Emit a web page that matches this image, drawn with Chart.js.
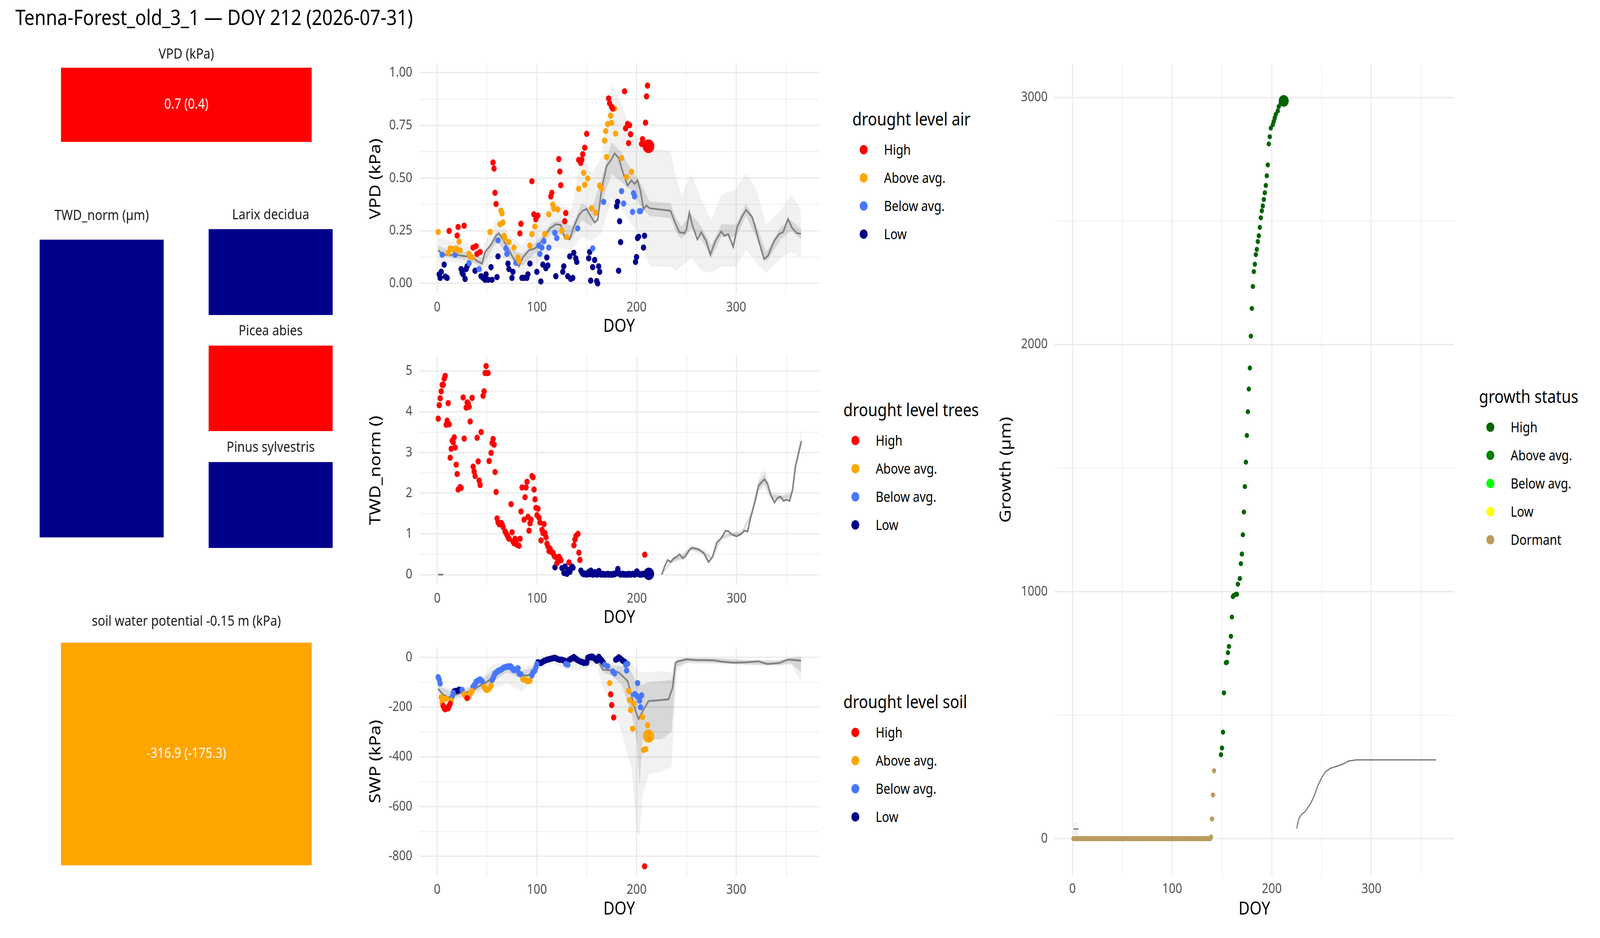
<!DOCTYPE html>
<html>
<head>
<meta charset="utf-8">
<script src="https://cdn.jsdelivr.net/npm/chart.js@4.4.1/dist/chart.umd.min.js"></script>
<style>
  html, body { margin: 0; padding: 0; overflow: hidden; background: #fff; }
  #page { position: absolute; left: 0; top: 0; width: 4800px; height: 2400px; transform-origin: 0 0;
          font-family: "Noto Sans", sans-serif; background: #fff; }
  .box { position: absolute; }
  .txt { position: absolute; line-height: 1; white-space: nowrap; transform: translateY(-50%); color: #000; }
  .dot { position: absolute; width: 24px; height: 24px; border-radius: 50%; transform: translate(-50%, -50%); }
</style>
</head>
<body>
<div id="page"></div>
<script>
// ---- categories / legends
const levelNames = ["High", "Above avg.", "Below avg.", "Low"];
const levelColors = ["#FF0000", "#FFA500", "#4876FF", "#00008B"];
const growthNames = ["High", "Above avg.", "Below avg.", "Low", "Dormant"];
const growthColors = ["#006400", "#008000", "#00FF00", "#FFFF00", "#BA9B5E"];

// ---- status tiles (today)
const tileTitles = ["VPD (kPa)", "TWD_norm (µm)", "Larix decidua", "Picea abies", "Pinus sylvestris",
                    "soil water potential -0.15 m (kPa)"];
const tileLevels = ["High", "Low", "Low", "High", "Low", "Above avg."];
const tileTexts = ["0.7 (0.4)", "", "", "", "", "-316.9 (-175.3)"];

// ---- VPD (kPa), points [DOY, value] per drought level
const vpdHigh = [[12,0.249],[20,0.227],[21,0.268],[27,0.274],[36,0.170],[39,0.177],[40,0.140],[43,0.149],
  [56,0.574],[57,0.545],[58,0.430],[59,0.377],[83,0.237],[84,0.283],[95,0.485],[97,0.328],[99,0.304],
  [101,0.322],[114,0.413],[115,0.430],[122,0.590],[123,0.531],[124,0.466],[128,0.295],[129,0.334],
  [142,0.586],[144,0.572],[145,0.587],[146,0.613],[148,0.644],[150,0.710],[172,0.878],[173,0.855],
  [175,0.838],[176,0.830],[188,0.912],[189,0.736],[191,0.757],[192,0.666],[193,0.751],[194,0.708],
  [205,0.662],[206,0.685],[209,0.763],[210,0.888],[211,0.939]];
const vpdAbove = [[1,0.244],[11,0.145],[13,0.166],[16,0.162],[19,0.166],[20,0.157],[22,0.198],[23,0.157],
  [32,0.140],[33,0.128],[35,0.123],[53,0.244],[63,0.281],[64,0.345],[65,0.332],[66,0.289],[67,0.226],
  [68,0.213],[72,0.196],[77,0.170],[81,0.123],[82,0.106],[93,0.179],[95,0.234],[98,0.270],[108,0.234],
  [112,0.328],[116,0.374],[117,0.355],[121,0.351],[125,0.251],[130,0.220],[142,0.449],[147,0.525],
  [148,0.468],[151,0.498],[155,0.357],[159,0.336],[163,0.464],[165,0.451],[168,0.678],[169,0.723],
  [170,0.600],[171,0.756],[174,0.796],[175,0.762],[178,0.830],[179,0.711],[185,0.595],[190,0.505],[195,0.530]];
const vpdBelow = [[5,0.136],[18,0.136],[32,0.096],[42,0.068],[61,0.204],[69,0.166],[70,0.140],[79,0.098],
  [102,0.179],[103,0.140],[105,0.170],[107,0.200],[112,0.170],[118,0.240],[120,0.215],[141,0.261],
  [156,0.166],[167,0.387],[185,0.438],[187,0.379],[196,0.339],[197,0.428],[198,0.413],[203,0.343],[204,0.343]];
const vpdLow = [[2,0.043],[3,0.026],[4,0.055],[7,0.089],[8,0.032],[10,0.026],[24,0.068],[25,0.051],
  [26,0.043],[28,0.021],[29,0.068],[30,0.081],[38,0.060],[44,0.034],[46,0.026],[48,0.017],[49,0.043],
  [51,0.017],[54,0.077],[55,0.017],[60,0.030],[61,0.128],[71,0.094],[72,0.068],[75,0.026],[76,0.055],
  [85,0.026],[87,0.026],[90,0.026],[91,0.043],[93,0.094],[100,0.055],[104,0.009],[106,0.089],[109,0.072],
  [110,0.123],[111,0.085],[119,0.034],[126,0.055],[127,0.081],[131,0.034],[133,0.128],[134,0.021],
  [136,0.026],[137,0.145],[139,0.119],[140,0.102],[152,0.119],[153,0.149],[154,0.013],[156,0.077],
  [158,0.111],[160,0.011],[161,0.000],[162,0.081],[163,0.055],[180,0.366],[181,0.387],[182,0.060],
  [183,0.295],[184,0.196],[199,0.102],[200,0.125],[201,0.215],[202,0.221],[207,0.170],[208,0.226]];
const vpdToday = [212, 0.651];
// long-term mean
const vpdClimDoy = [1,6,12,18,24,30,36,40,45,48,54,59,62,66,72,78,82,86,92,98,103,107,113,119,124,128,133,
  137,142,146,150,154,158,161,165,170,174,178,182,186,191,195,198,201,204,207,210,213,234,239,243,248,250,
  253,256,261,265,270,274,279,285,288,292,297,301,306,310,316,319,323,328,332,338,343,347,352,356,361,365];
const vpdClim = [0.158,0.136,0.134,0.136,0.132,0.128,0.123,0.106,0.094,0.149,0.183,0.226,0.238,0.208,0.157,
  0.106,0.081,0.123,0.157,0.166,0.191,0.217,0.260,0.281,0.277,0.213,0.209,0.268,0.323,0.345,0.353,0.319,
  0.289,0.302,0.447,0.557,0.583,0.617,0.596,0.532,0.464,0.489,0.472,0.489,0.438,0.353,0.370,0.357,0.345,
  0.285,0.243,0.238,0.255,0.336,0.277,0.209,0.243,0.200,0.136,0.200,0.247,0.226,0.234,0.174,0.268,0.319,
  0.349,0.315,0.268,0.196,0.115,0.132,0.200,0.234,0.243,0.306,0.264,0.238,0.236];
const vpdBandDoy = [1,15,30,45,60,75,85,100,115,125,135,145,155,165,175,185,195,205,213,234,240,245,255,265,
  275,285,300,310,320,330,345,355,365];
const vpdOuterLo = [0.10,0.10,0.09,0.05,0.14,0.08,0.03,0.09,0.17,0.17,0.16,0.22,0.20,0.24,0.40,0.35,0.28,
  0.22,0.08,0.08,0.06,0.08,0.12,0.06,0.05,0.08,0.08,0.16,0.10,0.05,0.12,0.15,0.12];
const vpdOuterHi = [0.22,0.20,0.19,0.17,0.31,0.22,0.18,0.28,0.38,0.37,0.35,0.62,0.52,0.60,0.95,0.85,0.72,
  0.68,0.64,0.63,0.50,0.42,0.52,0.40,0.30,0.42,0.45,0.52,0.45,0.28,0.35,0.42,0.35];
const vpdInnerLo = [0.14,0.12,0.11,0.08,0.20,0.11,0.08,0.15,0.24,0.23,0.21,0.30,0.27,0.38,0.52,0.48,0.44,
  0.36,0.32,0.31,0.24,0.21,0.26,0.21,0.12,0.22,0.22,0.32,0.22,0.10,0.21,0.25,0.21];
const vpdInnerHi = [0.18,0.15,0.15,0.12,0.25,0.16,0.14,0.20,0.29,0.30,0.27,0.38,0.35,0.50,0.67,0.62,0.54,
  0.47,0.39,0.38,0.31,0.27,0.33,0.27,0.18,0.28,0.28,0.38,0.28,0.15,0.27,0.30,0.26];

// ---- TWD_norm, points per drought level
const twdHigh = [[1,3.83],[2,4.16],[3,4.33],[4,4.50],[5,4.66],[6,4.66],[7,4.81],[8,4.88],[9,3.68],[10,3.78],
  [11,4.21],[12,3.69],[13,2.87],[14,3.09],[15,3.29],[16,3.25],[17,3.37],[18,3.12],[19,2.70],[20,2.47],
  [21,2.09],[23,2.15],[24,2.13],[26,4.35],[27,3.34],[29,4.10],[30,4.23],[31,4.21],[32,4.12],[33,3.76],
  [35,4.34],[36,2.65],[37,2.53],[38,2.42],[40,3.36],[41,2.78],[42,2.31],[43,2.20],[44,3.50],[46,4.39],
  [47,4.50],[48,4.95],[49,5.12],[50,4.95],[51,4.95],[52,2.79],[54,2.99],[55,3.23],[56,3.33],[57,3.19],
  [58,2.52],[59,2.03],[60,1.38],[61,1.28],[62,1.24],[63,1.26],[64,1.27],[65,1.24],[66,1.17],[68,1.06],
  [69,1.02],[70,0.97],[71,0.92],[72,0.88],[74,1.73],[75,1.04],[76,0.81],[77,0.77],[78,0.88],[79,0.84],
  [80,0.73],[82,0.71],[83,0.88],[84,1.55],[85,2.14],[87,1.35],[88,1.90],[89,2.14],[90,2.28],[91,1.42],
  [92,1.08],[93,1.26],[94,1.35],[95,2.42],[96,2.39],[97,2.09],[98,1.85],[99,1.64],[100,1.46],[101,1.62],
  [102,1.40],[103,1.28],[104,0.84],[105,1.10],[106,1.02],[107,1.24],[108,1.02],[109,0.92],[110,0.76],
  [111,0.69],[112,0.58],[113,0.64],[114,0.56],[116,0.54],[117,0.47],[118,0.44],[120,0.28],[121,0.36],
  [122,0.44],[123,0.40],[124,0.35],[132,0.30],[137,0.72],[138,0.86],[139,0.95],[141,1.00],[142,0.54],
  [143,0.36],[208,0.49]];
const twdLow = [[118,0.18],[125,0.16],[127,0.04],[128,0.20],[130,0.02],[131,0.12],[133,0.07],[135,0.20],
  [136,0.17],[144,0.10],[145,0.05],[146,0.02],[147,0.01],[148,0.03],[149,0.01],[150,0.00],[151,0.02],
  [152,0.07],[153,0.01],[154,0.10],[155,0.02],[156,0.00],[157,0.01],[158,0.06],[159,0.01],[160,0.00],
  [161,0.02],[162,0.09],[163,0.01],[164,0.00],[165,0.01],[166,0.02],[167,0.00],[168,0.01],[169,0.00],
  [170,0.01],[171,0.02],[172,0.00],[173,0.01],[174,0.00],[175,0.01],[176,0.00],[177,0.02],[178,0.01],
  [179,0.03],[180,0.06],[181,0.14],[182,0.05],[183,0.01],[184,0.00],[185,0.01],[186,0.02],[187,0.00],
  [188,0.01],[189,0.00],[190,0.01],[191,0.00],[192,0.02],[193,0.01],[194,0.00],[195,0.01],[196,0.02],
  [197,0.01],[198,0.00],[199,0.03],[200,0.08],[201,0.05],[202,0.01],[203,0.00],[204,0.01],[205,0.00],
  [206,0.02],[207,0.01],[209,0.04],[210,0.02],[211,0.01]];
const twdToday = [212, 0.02];
const twdClimDoy = [1,6,7,225,228,231,234,237,240,243,246,249,253,256,262,267,272,276,280,285,289,292,295,
  300,304,308,311,314,319,322,325,328,331,334,338,341,344,347,350,353,356,359,365];
const twdClim = [0,0,null,0,0.21,0.36,0.31,0.40,0.44,0.50,0.40,0.46,0.62,0.66,0.62,0.53,0.31,0.44,0.78,0.91,
  1.08,1.06,0.99,0.94,0.99,1.08,1.06,1.39,1.85,2.18,2.27,2.34,2.23,1.97,1.77,1.88,1.92,1.81,1.84,1.81,
  2.07,2.66,3.28];
const twdBandDoy = [225,235,245,255,265,275,285,295,305,315,322,328,335,345,355,360,365];
const twdOuterLo = [0,0.26,0.35,0.57,0.49,0.33,0.84,0.92,0.94,1.42,2.02,2.12,1.82,1.76,1.86,2.70,3.20];
const twdOuterHi = [0.02,0.42,0.52,0.74,0.65,0.47,0.98,1.06,1.08,1.58,2.38,2.62,2.04,1.98,2.04,2.92,3.60];
const twdInnerLo = [0,0.30,0.39,0.61,0.53,0.37,0.88,0.96,0.97,1.46,2.08,2.22,1.86,1.83,1.91,2.75,3.24];
const twdInnerHi = [0.01,0.38,0.47,0.69,0.61,0.43,0.94,1.02,1.05,1.54,2.28,2.48,1.98,1.93,1.99,2.85,3.32];

// ---- SWP (kPa), points per drought level
const swpHigh = [[6,-195],[7,-205],[8,-209],[10,-204],[11,-205],[12,-195],[13,-187],[30,-164],[174,-149],
  [175,-192],[177,-242],[208,-840]];
const swpAbove = [[4,-161],[5,-182],[9,-166],[14,-174],[27,-148],[28,-155],[29,-160],[32,-158],[33,-147],
  [34,-140],[35,-135],[47,-119],[48,-125],[49,-131],[50,-131],[51,-128],[52,-127],[53,-120],[54,-114],
  [86,-88],[87,-90],[88,-91],[89,-93],[90,-95],[91,-96],[92,-95],[93,-94],[173,-104],[192,-135],[193,-172],
  [194,-212],[196,-287],[197,-186],[206,-240],[207,-373],[209,-369],[211,-273]];
const swpBelow = [[1,-80],[2,-90],[3,-105],[15,-158],[16,-143],[25,-131],[36,-119],[37,-113],[38,-108],
  [39,-98],[40,-96],[41,-94],[42,-90],[43,-89],[44,-92],[45,-96],[55,-92],[56,-84],[57,-75],[58,-65],
  [59,-62],[60,-59],[61,-55],[62,-53],[63,-52],[64,-50],[65,-47],[66,-44],[67,-41],[68,-40],[69,-39],
  [70,-38],[71,-37],[72,-36],[73,-36],[74,-37],[75,-44],[76,-48],[77,-52],[78,-50],[79,-49],[80,-47],
  [81,-44],[82,-65],[83,-67],[84,-69],[95,-73],[96,-61],[97,-57],[98,-53],[99,-41],[100,-28],[129,-27],
  [131,-30],[168,-30],[171,-36],[176,-57],[178,-65],[189,-30],[190,-53],[191,-26],[198,-148],[200,-155],
  [201,-104],[202,-162],[203,-174],[204,-201],[205,-153]];
const swpLow = [[17,-137],[18,-135],[20,-135],[21,-133],[22,-130],[101,-20],[102,-22],[103,-23],[104,-23],
  [105,-20],[106,-18],[107,-15],[108,-13],[109,-12],[110,-10],[111,-9],[112,-8],[113,-7],[114,-6],[115,-5],
  [116,-4],[117,-3],[118,-2],[119,-4],[120,-6],[121,-8],[122,-9],[123,-10],[124,-10],[125,-10],[126,-12],
  [127,-13],[128,-14],[132,-12],[133,-9],[134,-6],[135,-5],[136,-2],[137,1],[138,-3],[139,-5],[140,-9],
  [141,-12],[142,-14],[143,-16],[144,-18],[145,-19],[146,-20],[147,-23],[148,-22],[149,-21],[150,-22],
  [151,-2],[152,0],[153,1],[154,2],[155,3],[156,2],[157,-2],[158,-5],[159,-10],[160,-14],[161,-6],[162,2],
  [163,-3],[164,-8],[165,-12],[166,-18],[167,-24],[179,-10],[180,-8],[181,-6],[182,0],[183,-3],[184,-6],
  [185,-10],[186,-14],[187,-16],[188,-18]];
const swpToday = [212, -316.9];
const swpClimDoy = [1,6,12,18,24,33,42,51,60,69,78,85,91,97,101,107,116,131,146,158,162,166,170,176,182,186,
  191,195,199,202,206,212,221,232,236,239,242,250,259,277,286,298,310,322,331,343,352,358,365];
const swpClim = [-127,-151,-162,-151,-143,-139,-116,-96,-61,-45,-49,-73,-73,-57,-22,-10,-6,-12,-14,-10,-18,
  -49,-51,-53,-61,-76,-96,-155,-217,-248,-217,-176,-173,-169,-123,-22,-16,-8,-11,-12,-18,-22,-20,-16,-27,
  -23,-9,-11,-14];
const swpBandDoy = [1,15,30,45,55,70,85,95,101,115,130,145,160,166,175,185,195,200,203,206,212,225,235,240,
  250,280,310,340,355,365];
const swpInnerLo = [-140,-165,-155,-125,-100,-60,-88,-75,-35,-15,-22,-22,-20,-60,-75,-110,-230,-330,-520,-330,
  -330,-330,-300,-40,-20,-22,-28,-32,-25,-60];
const swpInnerHi = [-115,-140,-125,-90,-55,-30,-55,-40,-10,0,-5,-5,-3,-35,-35,-35,-60,-100,-110,-110,-100,-95,
  -90,-10,-3,-5,-12,-15,-3,0];
const swpOuterLo = [-150,-175,-165,-140,-130,-105,-140,-100,-45,-25,-50,-50,-30,-120,-200,-300,-450,-700,-720,
  -560,-470,-460,-440,-60,-25,-28,-32,-36,-30,-100];
const swpOuterHi = [-105,-130,-115,-80,-30,-20,-40,-30,-5,0,0,0,0,-20,-15,-20,-25,-40,-60,-60,-60,-55,-60,-5,
  0,-2,-8,-10,0,5];

// ---- Growth (µm), points per growth status
const growthDormantDoy = [1,2,3,4,5,6,7,8,9,10,11,12,13,14,15,16,17,18,19,20,21,22,23,24,25,26,27,28,29,30,
  31,32,33,34,35,36,37,38,39,40,41,42,43,44,45,46,47,48,49,50,51,52,53,54,55,56,57,58,59,60,61,62,63,64,65,
  66,67,68,69,70,71,72,73,74,75,76,77,78,79,80,81,82,83,84,85,86,87,88,89,90,91,92,93,94,95,96,97,98,99,100,
  101,102,103,104,105,106,107,108,109,110,111,112,113,114,115,116,117,118,119,120,121,122,123,124,125,126,
  127,128,129,130,131,132,133,134,135,136,137,138,139,140,141,142,143,144,145,146,147,148];
const growthDormant = [0,0,0,0,0,0,0,0,0,0,0,0,0,0,0,0,0,0,0,0,0,0,0,0,0,0,0,0,0,0,0,0,0,0,0,0,0,0,0,0,0,0,
  0,0,0,0,0,0,0,0,0,0,0,0,0,0,0,0,0,0,0,0,0,0,0,0,0,0,0,0,0,0,0,0,0,0,0,0,0,0,0,0,0,0,0,0,0,0,0,0,0,0,0,0,
  0,0,0,0,0,0,0,0,0,0,0,0,0,0,0,0,0,0,0,0,0,0,0,0,0,0,0,0,0,0,0,0,0,0,0,0,0,0,0,0,0,0,0,0,7,80,177,275];
const growthHigh = [[149,340],[150,367],[151,431],[152,590],[154,712],[155,714],[156,753],[157,778],[159,819],
  [160,897],[161,980],[162,985],[164,989],[165,989],[166,1030],[168,1053],[169,1113],[170,1152],[171,1230],
  [172,1322],[173,1425],[174,1524],[175,1632],[176,1728],[177,1820],[178,1905],[179,2034],[180,2146],
  [181,2235],[182,2295],[183,2325],[184,2364],[185,2385],[186,2417],[187,2440],[188,2474],[189,2513],
  [190,2541],[191,2561],[192,2587],[193,2614],[194,2644],[195,2683],[196,2727],[197,2812],[198,2841],
  [199,2876],[201,2890],[202,2903],[203,2917],[204,2931],[206,2945],[207,2963],[209,2977],[210,2984]];
const growthToday = [212, 2986];
const growthClimDoy = [1,6,7,225,227,230,233,237,239,243,246,250,254,259,266,272,277,285,294,365];
const growthClim = [39,39,null,41,80,99,108,131,142,177,213,246,271,285,294,303,314,319,319,319];
const growthBandDoy = [1,6];
const growthBandLo = [14,14];
const growthBandHi = [64,64];

// ---------------------------------------------------------------- drawing
// the page is laid out at 4800 x 2400 and fitted to whatever viewport the browser really has
const page = document.getElementById("page");
document.body.style.width = window.innerWidth + "px";
document.body.style.height = window.innerHeight + "px";
page.style.transform = `scale(${window.innerWidth / 4800}, ${window.innerHeight / 2400})`;

const FONT = '"Noto Sans", sans-serif';
Chart.defaults.font.family = FONT;
Chart.defaults.color = "#4D4D4D";

const colorOf = name => levelColors[levelNames.indexOf(name)];
const xy = pairs => pairs.map(p => ({x: p[0], y: p[1]}));
const zip = (xs, ys) => xs.map((x, i) => ({x: x, y: ys[i]}));
const isMult = (v, s) => Math.abs(v / s - Math.round(v / s)) < 1e-6;

function addDiv(cls, style, txt) {
  const d = document.createElement("div");
  d.className = cls;
  d.style.cssText = style;
  if (txt) d.textContent = txt;
  page.appendChild(d);
  return d;
}
function place(l, t, w, h) {
  const d = addDiv("box", `left:${l}px; top:${t}px; width:${w}px; height:${h}px;`);
  const c = document.createElement("canvas");
  d.appendChild(c);
  return c;
}

addDiv("txt", "left:46px; top:42px; font-size:55px;", "Tenna-Forest_old_3_1 — DOY 212 (2026-07-31)");

function pointSet(pairs, color, r) {
  return {data: xy(pairs), showLine: false, pointRadius: r, pointBorderWidth: 0,
          pointBackgroundColor: color, backgroundColor: color, borderColor: color};
}
function lineSet(xs, ys, w) {
  return {data: zip(xs, ys), pointRadius: 0, borderColor: "#7F7F7F", borderWidth: w, fill: false, tension: 0};
}
function bandSets(xs, lo, hi, color) {
  return [
    {data: zip(xs, hi), pointRadius: 0, borderWidth: 0, borderColor: "rgba(0,0,0,0)", backgroundColor: color, fill: "+1"},
    {data: zip(xs, lo), pointRadius: 0, borderWidth: 0, borderColor: "rgba(0,0,0,0)", fill: false}
  ];
}
function fixedTicks(min, max, step) {
  return scale => {
    const out = [];
    for (let v = Math.ceil(min / step) * step; v <= max + 1e-9; v += step) {
      out.push({value: Math.round(v * 1e6) / 1e6});
    }
    scale.ticks = out;
  };
}

const OUTER = "rgba(0,0,0,0.055)";
const INNER = "rgba(0,0,0,0.11)";
const DOY_MIN = -18.25, DOY_MAX = 383.25;
const PAD_T = 45, PAD_R = 14;   // room Chart.js wants for the end tick labels

// area = panel rectangle; the canvas reaches out to the axis titles
function panel(area, left, bottom, y, datasets) {
  const box = {l: left, t: area.t - PAD_T, r: area.r + PAD_R, b: bottom};
  const canvas = place(box.l, box.t, box.r - box.l, box.b - box.t);
  new Chart(canvas, {
    type: "line",
    data: {datasets: datasets},
    options: {
      animation: false, responsive: true, maintainAspectRatio: false, devicePixelRatio: 1, events: [],
      layout: {padding: {top: PAD_T, right: PAD_R, left: 0, bottom: 0}},
      plugins: {legend: {display: false}, tooltip: {enabled: false}},
      scales: {
        x: {
          type: "linear", min: DOY_MIN, max: DOY_MAX, border: {display: false},
          afterBuildTicks: fixedTicks(DOY_MIN, DOY_MAX, 50),
          grid: {color: "#EBEBEB", drawTicks: false,
                 lineWidth: c => (c.tick && isMult(c.tick.value, 100)) ? 3.5 : 1.8},
          ticks: {autoSkip: false, maxRotation: 0, padding: 14, color: "#4D4D4D", font: {size: 35},
                  callback: v => isMult(v, 100) ? String(v) : ""},
          title: {display: true, text: "DOY", color: "#000", font: {size: 46}, padding: 0},
          afterFit: s => { s.height = box.b - area.b; }
        },
        y: {
          type: "linear", min: y.min, max: y.max, border: {display: false},
          afterBuildTicks: fixedTicks(y.min, y.max, y.step),
          grid: {color: "#EBEBEB", drawTicks: false,
                 lineWidth: c => (c.tick && isMult(c.tick.value, y.label)) ? 3.5 : 1.8},
          ticks: {autoSkip: false, padding: 20, color: "#4D4D4D", font: {size: 35},
                  callback: v => isMult(v, y.label) ? y.fmt(v) : ""},
          title: {display: true, text: y.title, color: "#000", font: {size: 46}, padding: 0},
          afterFit: s => { s.width = area.l - box.l; }
        }
      }
    }
  });
}

function levelPoints(sets, today, todayLevel, r, rBig) {
  const out = [pointSet([today], colorOf(todayLevel), rBig)];
  sets.forEach((s, i) => { if (s) out.push(pointSet(s, levelColors[i], r)); });
  return out;
}

// VPD
panel({l: 1257, t: 163, r: 2461, b: 752}, 1100, 863,
  {min: -0.05, max: 1.043, step: 0.125, label: 0.25, fmt: v => v.toFixed(2), title: "VPD (kPa)"},
  levelPoints([vpdHigh, vpdAbove, vpdBelow, vpdLow], vpdToday, "High", 8, 17.5)
    .concat([lineSet(vpdClimDoy, vpdClim, 4.5)])
    .concat(bandSets(vpdBandDoy, vpdInnerLo, vpdInnerHi, INNER))
    .concat(bandSets(vpdBandDoy, vpdOuterLo, vpdOuterHi, OUTER)));

// TWD
panel({l: 1257, t: 910, r: 2461, b: 1497}, 1100, 1608,
  {min: -0.256, max: 5.376, step: 0.5, label: 1, fmt: v => String(v), title: "TWD_norm ()"},
  levelPoints([twdHigh, null, null, twdLow], twdToday, "Low", 8, 16)
    .concat([lineSet(twdClimDoy, twdClim, 4.5)])
    .concat(bandSets(twdBandDoy, twdInnerLo, twdInnerHi, INNER))
    .concat(bandSets(twdBandDoy, twdOuterLo, twdOuterHi, OUTER)));

// SWP
panel({l: 1257, t: 1655, r: 2461, b: 2242}, 1100, 2354,
  {min: -880, max: 42, step: 100, label: 200, fmt: v => String(v), title: "SWP (kPa)"},
  levelPoints([swpHigh, swpAbove, swpBelow, swpLow], swpToday, "Above avg.", 8, 17)
    .concat([lineSet(swpClimDoy, swpClim, 4.5)])
    .concat(bandSets(swpBandDoy, swpInnerLo, swpInnerHi, INNER))
    .concat(bandSets(swpBandDoy, swpOuterLo, swpOuterHi, OUTER)));

// Growth
panel({l: 3163, t: 164, r: 4364, b: 2240}, 2991, 2354,
  {min: -149, max: 3135, step: 500, label: 1000, fmt: v => String(v), title: "Growth (µm)"},
  [pointSet([growthToday], growthColors[0], 15),
   pointSet(growthHigh, growthColors[0], 6.5),
   pointSet(growthDormantDoy.map((d, i) => [d, growthDormant[i]]), growthColors[4], 6.5),
   lineSet(growthClimDoy, growthClim, 3.5)]
    .concat(bandSets(growthBandDoy, growthBandLo, growthBandHi, OUTER)));

// ---- status tiles, one bar chart each
const tileBoxes = [
  {x: 183, w: 752, titleY: 139, top: 173, bottom: 363},
  {x: 119, w: 372, titleY: 552, top: 613, bottom: 1375},
  {x: 626, w: 372, titleY: 550, top: 586, bottom: 806},
  {x: 626, w: 372, titleY: 847, top: 884, bottom: 1103},
  {x: 626, w: 372, titleY: 1145, top: 1182, bottom: 1402},
  {x: 183, w: 752, titleY: 1590, top: 1644, bottom: 2214}
];
const TITLE_SIZE = 37, TITLE_LH = TITLE_SIZE * 1.2;

tileTitles.forEach((title, i) => {
  const b = tileBoxes[i];
  const top = b.titleY - TITLE_LH / 2;
  const canvas = place(b.x, top, b.w, b.bottom - top);
  const text = tileTexts[i];
  new Chart(canvas, {
    type: "bar",
    data: {labels: [""], datasets: [{data: [1], backgroundColor: colorOf(tileLevels[i]), borderWidth: 0,
                                     categoryPercentage: 1, barPercentage: 1}]},
    options: {
      animation: false, responsive: true, maintainAspectRatio: false, devicePixelRatio: 1, events: [],
      layout: {padding: 0},
      scales: {x: {display: false}, y: {display: false, min: 0, max: 1}},
      plugins: {
        legend: {display: false}, tooltip: {enabled: false},
        title: {display: true, text: title, color: "#1A1A1A", font: {size: TITLE_SIZE, weight: "normal"},
                padding: {top: 0, bottom: b.top - top - TITLE_LH}}
      }
    },
    plugins: [{
      id: "tileText",
      afterDatasetsDraw(chart) {
        if (!text) return;
        const bar = chart.getDatasetMeta(0).data[0];
        const ctx = chart.ctx;
        ctx.save();
        ctx.fillStyle = "#FFFFFF";
        ctx.font = "36px " + FONT;
        ctx.textAlign = "center";
        ctx.textBaseline = "middle";
        ctx.fillText(text, bar.x, (bar.y + bar.base) / 2);
        ctx.restore();
      }
    }]
  });
});

// ---- legends
function legend(title, names, colors, L) {
  addDiv("txt", `left:${L.titleX}px; top:${L.titleY}px; font-size:46px;`, title);
  names.forEach((n, i) => {
    const y = L.titleY + 80 + i * 72;
    addDiv("dot", `left:${L.dotX}px; top:${y}px; background:${colors[i]};`);
    addDiv("txt", `left:${L.dotX + 61}px; top:${y}px; font-size:36px;`, n);
  });
}
legend("drought level air", levelNames, levelColors, {titleX: 2557, titleY: 303, dotX: 2591});
legend("drought level trees", levelNames, levelColors, {titleX: 2530, titleY: 1047, dotX: 2566});
legend("drought level soil", levelNames, levelColors, {titleX: 2530, titleY: 1794, dotX: 2566});
legend("growth status", growthNames, growthColors, {titleX: 4437, titleY: 1013, dotX: 4471});
</script>
</body>
</html>
